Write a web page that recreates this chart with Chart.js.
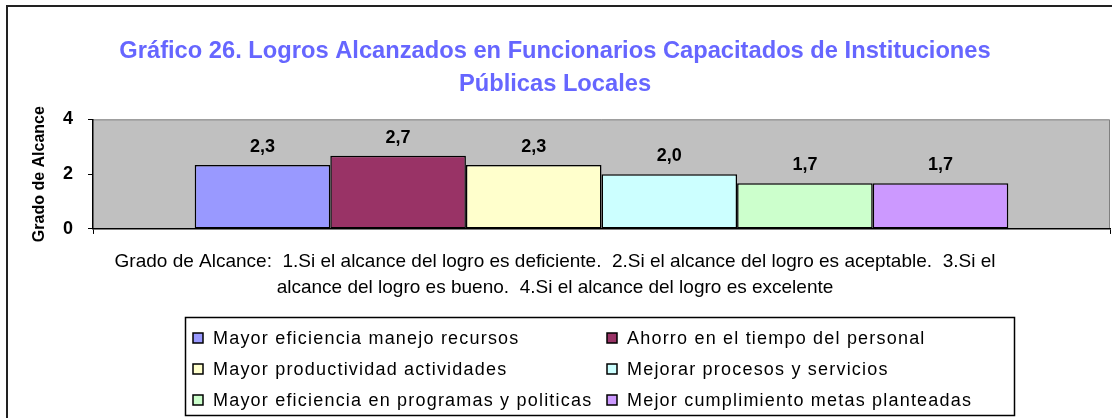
<!DOCTYPE html>
<html>
<head>
<meta charset="utf-8">
<script src="https://cdn.jsdelivr.net/npm/chart.js@4"></script>
<style>
  html, body { margin: 0; padding: 0; background: #fff; }
  #caja { width: 1112px; height: 418px; }
</style>
</head>
<body>
<div id="caja"><canvas id="grafico"></canvas></div>
<script>
const categorias = [
    'Mayor eficiencia manejo recursos',
    'Ahorro en el tiempo del personal',
    'Mayor productividad actividades',
    'Mejorar procesos y servicios',
    'Mayor eficiencia en programas y politicas',
    'Mejor cumplimiento metas planteadas'
]
const valores = [2.33, 2.67, 2.33, 2.0, 1.67, 1.67]
const colores = ['#9999ff', '#993366', '#ffffcc', '#ccffff', '#ccffcc', '#cc99ff']
const titulo = [
    'Gráfico 26. Logros Alcanzados en Funcionarios Capacitados de Instituciones',
    'Públicas Locales'
]
const tituloX = [
    'Grado de Alcance:  1.Si el alcance del logro es deficiente.  2.Si el alcance del logro es aceptable.  3.Si el',
    'alcance del logro es bueno.  4.Si el alcance del logro es excelente'
]
const tituloY = 'Grado de Alcance'
const ejeY = { min: 0, max: 4, paso: 2 }

Chart.defaults.font.family = "'Liberation Sans', Arial, sans-serif"
Chart.defaults.color = '#000'

// fondo gris del area de trazado y marco exterior
const fondo = {
    id: 'fondo',
    beforeDraw(chart) {
        const { ctx, chartArea: a } = chart
        ctx.save()
        ctx.fillStyle = '#c0c0c0'
        ctx.fillRect(a.left, a.top, a.right - a.left, a.bottom - a.top)
        ctx.strokeStyle = '#808080'
        ctx.lineWidth = 1
        ctx.beginPath()
        ctx.moveTo(a.left, a.top + 0.5)
        ctx.lineTo(a.right - 0.5, a.top + 0.5)
        ctx.lineTo(a.right - 0.5, a.bottom)
        ctx.stroke()
        ctx.strokeStyle = '#222'
        ctx.lineWidth = 2
        ctx.strokeRect(7, 6, 1300, 600)
        ctx.restore()
    }
}

// etiquetas de valor sobre las barras
const etiquetas = {
    id: 'etiquetas',
    afterDatasetsDraw(chart) {
        const { ctx } = chart
        ctx.save()
        ctx.font = "bold 18px 'Liberation Sans', Arial, sans-serif"
        ctx.fillStyle = '#000'
        ctx.textAlign = 'center'
        ctx.textBaseline = 'middle'
        chart.data.datasets.forEach((ds, i) => {
            const bar = chart.getDatasetMeta(i).data[0]
            ctx.fillText(ds.data[0].toFixed(1).replace('.', ','), bar.x, bar.y - 18)
        })
        ctx.restore()
    }
}

// leyenda en dos columnas con recuadro
const leyenda = {
    id: 'leyenda',
    afterDraw(chart) {
        const { ctx } = chart
        const caja = { x: 185, y: 317, w: 829, h: 98 }
        const cols = [193, 607]
        const filas = [338, 369, 400]
        ctx.save()
        ctx.strokeStyle = '#000'
        ctx.lineWidth = 1.5
        ctx.strokeRect(caja.x + 0.5, caja.y + 0.5, caja.w, caja.h)
        ctx.font = "18px 'Liberation Sans', Arial, sans-serif"
        ctx.letterSpacing = '1.2px'
        ctx.textBaseline = 'middle'
        chart.data.datasets.forEach((ds, i) => {
            const x = cols[i % 2]
            const y = filas[Math.floor(i / 2)]
            ctx.fillStyle = ds.backgroundColor
            ctx.fillRect(x, y - 5, 10, 10)
            ctx.lineWidth = 1.5
            ctx.strokeRect(x, y - 5, 10, 10)
            ctx.fillStyle = '#000'
            ctx.fillText(ds.label, x + 20, y + 1)
        })
        ctx.restore()
    }
}

new Chart(document.getElementById('grafico'), {
    type: 'bar',
    data: {
        labels: [''],
        datasets: categorias.map((nombre, i) => ({
            label: nombre,
            data: [valores[i]],
            backgroundColor: colores[i],
            borderColor: '#000',
            borderWidth: 1.5,
            borderSkipped: false,
            categoryPercentage: 0.8,
            barPercentage: 1.0
        }))
    },
    options: {
        responsive: true,
        maintainAspectRatio: false,
        animation: false,
        devicePixelRatio: 1,
        layout: { padding: { left: 0, right: 2, top: 0, bottom: 113 } },
        plugins: {
            legend: { display: false },
            tooltip: { enabled: false },
            title: {
                display: true,
                text: titulo,
                color: '#6666ff',
                font: { size: 23.7, weight: 'bold', lineHeight: 1.4 },
                padding: { top: 35, bottom: 18 }
            },
            // texto explicativo bajo el eje, centrado en todo el grafico
            subtitle: {
                display: true,
                position: 'bottom',
                text: tituloX,
                color: '#000',
                font: { size: 19, lineHeight: 1.37 },
                padding: { top: 12, bottom: 4 }
            }
        },
        scales: {
            x: {
                grid: { drawOnChartArea: false, drawTicks: true, tickLength: 5, color: '#000' },
                border: { color: '#000', width: 1.5 },
                ticks: { display: false },
                afterFit(scale) { scale.height = 8 }
            },
            y: {
                min: ejeY.min,
                max: ejeY.max,
                ticks: { stepSize: ejeY.paso, padding: 15, font: { size: 18, weight: 'bold' } },
                grid: { drawOnChartArea: false, drawTicks: true, tickLength: 5, color: '#000' },
                border: { color: '#000', width: 1.5 },
                title: {
                    display: true,
                    text: tituloY,
                    font: { size: 16, weight: 'bold', lineHeight: 1.2 },
                    padding: { top: 30, bottom: 0 }
                },
                afterFit(scale) { scale.width = 93 }
            }
        }
    },
    plugins: [fondo, etiquetas, leyenda]
})
</script>
</body>
</html>
